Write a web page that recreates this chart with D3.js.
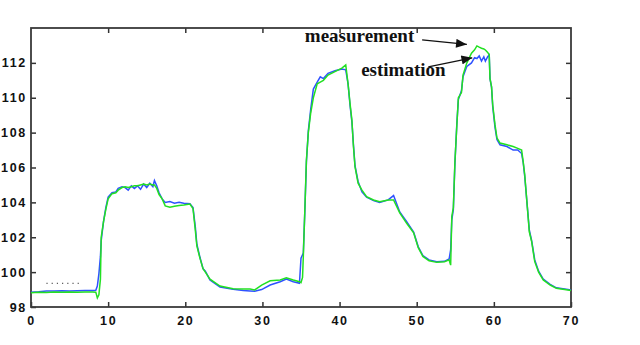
<!DOCTYPE html>
<html>
<head>
<meta charset="utf-8">
<script src="https://cdn.jsdelivr.net/npm/d3@7"></script>
<style>
  body { margin: 0; background: #fff; }
  .tick text { font-family: "Liberation Sans", Arial, sans-serif; font-weight: bold; font-size: 12.5px; letter-spacing: 1.7px; fill: #111; }
  .note { font-family: "Liberation Serif", "Times New Roman", serif; font-size: 19px; font-weight: 600; fill: #111; }
</style>
</head>
<body>
<div id="svg-container"></div>
<script>
// set the dimensions and margins of the graph
var margin = {top: 28, right: 69, bottom: 38, left: 31},
  width = 640 - margin.left - margin.right,
  height = 345 - margin.top - margin.bottom;

// time axis (s) shared by both series
var time = [0, 1, 2, 3, 4, 5, 6, 7, 8, 8.4, 8.6, 8.8, 9, 9.1, 9.4, 9.7, 10, 10.5, 11, 11.3,
  11.8, 12.2, 12.6, 13, 13.4, 13.8, 14.2, 14.6, 15, 15.4, 15.8, 16, 16.3, 16.6, 17, 17.4,
  18, 18.6, 19.2, 19.8, 20.6, 21, 21.3, 21.5, 21.9, 22.3, 22.6, 23.2, 24.5, 26.2, 27.5, 28.4,
  29, 29.9, 31, 32.3, 33.1, 34, 34.8, 35, 35.2, 35.3, 35.5, 35.7, 35.95, 36.25, 36.6, 37.1,
  37.5, 37.9, 38.5, 39.4, 40.3, 40.8, 41.1, 41.35, 41.6, 41.8, 42, 42.4, 42.9, 43.5, 44.4,
  45.2, 46.3, 47, 47.8, 48.7, 49.6, 50.2, 50.8, 51.6, 52.6, 53.6, 54.2, 54.4, 54.55, 54.75,
  54.95, 55.2, 55.4, 55.8, 56, 56.5, 57.1, 57.5, 57.8, 58.1, 58.4, 58.7, 58.9, 59.2, 59.4,
  59.5, 59.7, 59.85, 60.15, 60.4, 60.8, 61.7, 62.5, 63.1, 63.6, 63.8, 64, 64.35, 64.6, 64.9,
  65.3, 65.8, 66.4, 67.3, 68.1, 69.6, 70];

var measurement = [98.82, 98.85, 98.83, 98.86, 98.84, 98.86, 98.84, 98.86, 98.86, 98.85, 98.52, 98.7, 99.6, 102.0, 102.9, 103.6, 104.2, 104.5, 104.55, 104.7,
  104.85, 104.9, 104.85, 104.9, 104.95, 104.95, 105.0, 105.05, 105.0, 105.05, 105.0, 105.0, 104.8, 104.45, 104.2, 103.8,
  103.72, 103.78, 103.82, 103.85, 103.9, 103.65, 102.4, 101.5, 100.8, 100.2, 100.0, 99.6, 99.2, 99.05, 99.03, 99.03,
  98.98, 99.26, 99.5, 99.55, 99.68, 99.55, 99.45, 99.4, 99.7, 100.9, 103.6, 106.4, 108.0, 109.1, 110.0, 110.8,
  110.9, 111.0, 111.3, 111.5, 111.7, 111.88, 110.8, 109.7, 108.7, 107.2, 106.05, 105.1, 104.7, 104.33, 104.14,
  104.04, 104.14, 104.14, 103.4, 102.8, 102.25, 101.4, 100.9, 100.65, 100.56, 100.6, 100.7, 100.4, 103.2, 103.7,
  106.3, 108.4, 110.0, 110.3, 111.3, 112.0, 112.55, 112.75, 112.97, 112.9, 112.84, 112.8, 112.74, 112.6, 112.46,
  111.1, 110.64, 109.6, 108.44, 107.7, 107.4, 107.3, 107.2, 107.1, 107.0, 106.34, 105.6, 103.66, 102.3, 101.75,
  100.6, 100.0, 99.55, 99.26, 99.07, 98.98, 98.95];

var estimation = [98.85, 98.88, 98.92, 98.92, 98.93, 98.92, 98.93, 98.94, 98.95, 98.96, 99.2, 99.9, 100.9, 101.8, 102.9, 103.7, 104.3, 104.55, 104.6, 104.8,
  104.9, 104.85, 104.7, 104.95, 104.8, 104.95, 104.75, 105.05, 104.85, 105.1, 104.9, 105.25, 104.95, 104.55, 104.2, 104.0,
  104.05, 103.95, 104.0, 103.95, 103.92, 103.7, 102.6, 101.6, 100.85, 100.2, 100.05, 99.55, 99.15, 99.02, 98.95, 98.92,
  98.9, 99.0, 99.26, 99.45, 99.6, 99.45, 99.36, 100.8, 101.0, 101.1, 103.5, 106.3, 108.1, 109.3, 110.5, 110.9,
  111.2, 111.1, 111.4, 111.55, 111.65, 111.6, 110.8, 109.6, 108.6, 107.3, 106.1, 105.2, 104.6, 104.3, 104.1,
  104.0, 104.14, 104.39, 103.45, 102.9, 102.3, 101.45, 100.95, 100.7, 100.6, 100.62, 100.75, 101.27, 103.0, 103.6,
  106.2, 108.5, 109.9, 110.4, 111.2, 111.8, 112.0, 112.3, 112.25, 112.4, 112.1, 112.35, 112.1, 112.35, 112.45,
  111.1, 110.6, 109.5, 108.3, 107.6, 107.3, 107.2, 107.0, 107.0, 106.8, 106.3, 105.5, 103.7, 102.4, 101.8,
  100.7, 100.05, 99.6, 99.3, 99.1, 99.0, 98.97];

var xTicks = [0, 10, 20, 30, 40, 50, 60, 70];
var yTicks = [98, 100, 102, 104, 106, 108, 110, 112];

// annotations: label, text anchor (t, v), arrow start and tip (t, v)
var noteLabels = ["measurement", "estimation"];
var noteText = [[35.5, 113.2], [42.8, 111.25]];
var noteFrom = [[50.7, 113.32], [51.5, 111.77]];
var noteTo = [[56.5, 113.06], [57.2, 112.29]];

// append the svg object to the body of the page
var svg = d3.select("#svg-container")
    .append("svg")
    .attr("width", width + margin.left + margin.right)
    .attr("height", height + margin.top + margin.bottom)
    .append("g")
    .attr("transform", "translate(" + margin.left + "," + margin.top + ")");

var x = d3.scaleLinear().domain([0, 70]).range([0, width]);
var y = d3.scaleLinear().domain([98, 114]).range([height, 0]);

// frame with inward ticks on all four sides
svg.append("g")
  .attr("transform", "translate(0," + height + ")")
  .call(d3.axisBottom(x).tickValues(xTicks).tickSizeInner(-5).tickSizeOuter(0).tickPadding(9));
svg.append("g")
  .call(d3.axisTop(x).tickValues(xTicks.slice(1, -1)).tickSizeInner(-5).tickSizeOuter(0).tickFormat(""));
svg.append("g")
  .call(d3.axisLeft(y).tickValues(yTicks).tickSizeInner(-5).tickSizeOuter(0).tickPadding(4));
svg.append("g")
  .attr("transform", "translate(" + width + ",0)")
  .call(d3.axisRight(y).tickValues(yTicks.slice(1)).tickSizeInner(-5).tickSizeOuter(0).tickFormat(""));

svg.selectAll(".domain").remove();
svg.selectAll(".tick line").attr("stroke", "#333").attr("stroke-width", 1.5);
svg.append("rect")
  .attr("width", width)
  .attr("height", height)
  .attr("fill", "none")
  .attr("stroke", "#3a3a3a")
  .attr("stroke-width", 1.8);

// little dotted scan artefact near the baseline
svg.append("line")
  .attr("x1", x(2)).attr("x2", x(6.5))
  .attr("y1", y(99.36)).attr("y2", y(99.36))
  .attr("stroke", "#333")
  .attr("stroke-dasharray", "1.2,4");

var line = d3.line()
  .x(function(d) { return x(d.t); })
  .y(function(d) { return y(d.v); });

var estData = time.map(function(t, i) { return {t: t, v: estimation[i]}; });
var measData = time.map(function(t, i) { return {t: t, v: measurement[i]}; });

svg.append("path")
  .datum(estData)
  .attr("fill", "none")
  .attr("stroke", "#2f52ff")
  .attr("stroke-width", 1.5)
  .attr("d", line);

svg.append("path")
  .datum(measData)
  .attr("fill", "none")
  .attr("stroke", "#22e022")
  .attr("stroke-width", 1.5)
  .attr("d", line);

// arrows
svg.append("defs").append("marker")
  .attr("id", "head")
  .attr("viewBox", "0 0 12 10")
  .attr("refX", 12).attr("refY", 5)
  .attr("markerWidth", 12).attr("markerHeight", 9)
  .attr("markerUnits", "userSpaceOnUse")
  .attr("orient", "auto")
  .append("path")
  .attr("d", "M0,0 L12,5 L0,10 Z")
  .attr("fill", "#111");

noteLabels.forEach(function(lbl, i) {
  svg.append("text")
    .attr("class", "note")
    .attr("x", x(noteText[i][0]))
    .attr("y", y(noteText[i][1]))
    .text(lbl);
  svg.append("line")
    .attr("x1", x(noteFrom[i][0])).attr("y1", y(noteFrom[i][1]))
    .attr("x2", x(noteTo[i][0])).attr("y2", y(noteTo[i][1]))
    .attr("stroke", "#111")
    .attr("stroke-width", 1.2)
    .attr("marker-end", "url(#head)");
});
</script>
</body>
</html>
